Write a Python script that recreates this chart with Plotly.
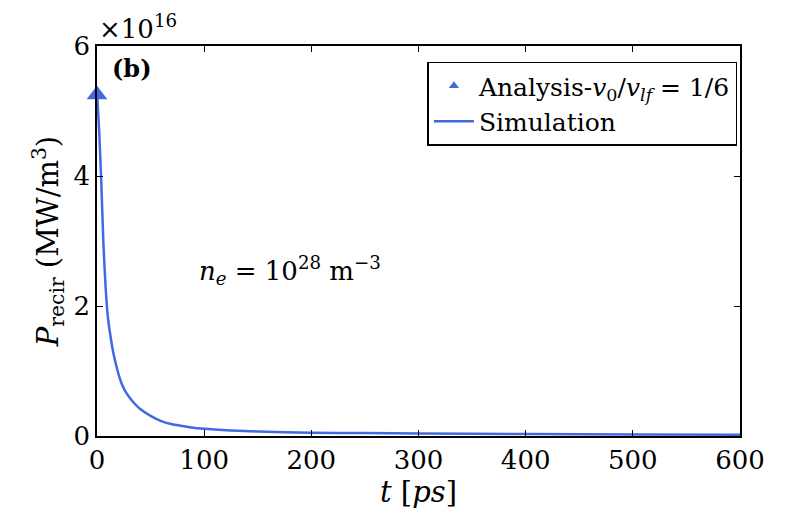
import plotly.graph_objects as go

# Simulation curve (values in units of 1e16 MW/m^3)
t_sim = [0, 2, 4, 6, 8, 10, 12, 15, 18, 22, 26, 30, 35, 40, 50, 60, 70, 85,
         100, 125, 150, 200, 250, 300, 400, 500, 600]
p_sim = [5.3, 4.7, 3.9, 2.95, 2.3, 1.85, 1.6, 1.3, 1.08, 0.85, 0.7, 0.6, 0.5,
         0.42, 0.31, 0.23, 0.18, 0.14, 0.11, 0.085, 0.07, 0.05, 0.045, 0.04,
         0.03, 0.025, 0.02]

# Analysis point
t_ana = [0]
p_ana = [5.25]

x_ticks = [0, 100, 200, 300, 400, 500, 600]
y_ticks = [0, 2, 4, 6]

BLUE = "#4169E1"
FONT = "DejaVu Serif"

fig = go.Figure()
fig.add_trace(go.Scatter(
    x=t_ana, y=p_ana, mode="markers",
    marker=dict(symbol="triangle-up", size=18, color=BLUE),
    showlegend=False, cliponaxis=False,
))
# legend entry with the small marker shown in the reference legend
fig.add_trace(go.Scatter(
    x=[None], y=[None], mode="markers",
    marker=dict(symbol="triangle-up", size=9, color=BLUE),
    name="Analysis-<i>v</i><sub>0</sub>/<i>v</i><sub><i>lf</i></sub>&nbsp;=&nbsp;1/6",
))
fig.add_trace(go.Scatter(
    x=t_sim, y=p_sim, mode="lines",
    line=dict(color=BLUE, width=2.5, shape="spline", smoothing=0.5),
    name="Simulation",
))

axis_common = dict(
    showline=True, linecolor="black", linewidth=1.5, mirror="ticks",
    ticks="inside", ticklen=6, tickcolor="black", tickwidth=1.2,
    showgrid=False, zeroline=False,
    tickfont=dict(family=FONT, size=26, color="black"),
)

fig.update_layout(
    width=795, height=525,
    margin=dict(l=89, r=63, t=38, b=97),
    plot_bgcolor="white", paper_bgcolor="white",
    font=dict(family=FONT, color="black"),
    xaxis=dict(range=[0, 600], tickvals=x_ticks,
               title=dict(text="<i>t</i> [<i>ps</i>]", font=dict(family=FONT, size=29), standoff=2),
               **axis_common),
    yaxis=dict(range=[0, 6], tickvals=y_ticks,
               title=dict(text="<i>P</i><sub>recir</sub>&nbsp;(MW/m<sup>3</sup>)", font=dict(family=FONT, size=29), standoff=6),
               **axis_common),
    legend=dict(x=0.996, y=0.96, xanchor="right", yanchor="top",
                bordercolor="black", borderwidth=1.5, bgcolor="white",
                font=dict(family=FONT, size=25), tracegroupgap=0,
                itemwidth=40),
    showlegend=True,
    annotations=[
        dict(text="×10<sup>16</sup>", x=0, y=1.0, xref="paper", yref="paper",
             xanchor="left", yanchor="bottom", showarrow=False, yshift=0,
             font=dict(family=FONT, size=26)),
        dict(text="<b>(b)</b>", x=0.02, y=0.985, xref="paper", yref="paper",
             xanchor="left", yanchor="top", showarrow=False,
             font=dict(family=FONT, size=24)),
        dict(text="<i>n</i><sub><i>e</i></sub>&nbsp;=&nbsp;10<sup>28</sup> m<sup>−3</sup>",
             x=180, y=2.55, xref="x", yref="y", showarrow=False,
             font=dict(family=FONT, size=26)),
    ],
)

fig.write_html("out.html")
